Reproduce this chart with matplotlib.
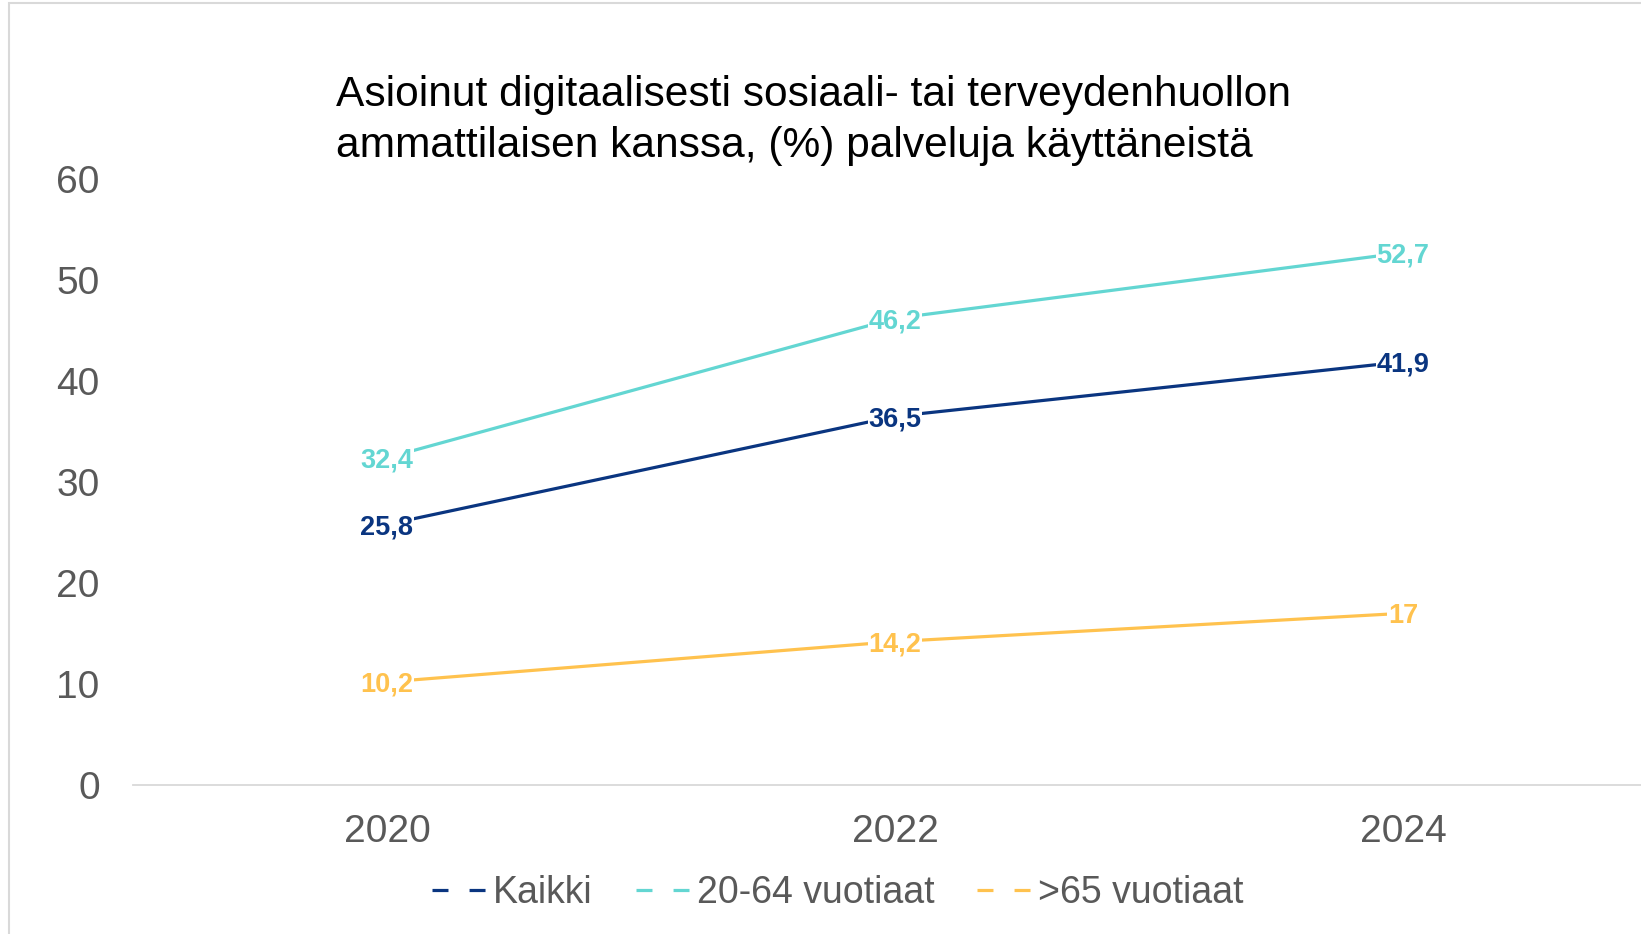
import matplotlib
matplotlib.use("Agg")
import matplotlib.pyplot as plt
from matplotlib.lines import Line2D
from matplotlib.patches import Rectangle

plt.rcParams['font.family'] = ['Liberation Sans', 'DejaVu Sans']

years = ["2020", "2022", "2024"]
kaikki = [25.8, 36.5, 41.9]
aged_20_64 = [32.4, 46.2, 52.7]
aged_65 = [10.2, 14.2, 17]
labels_kaikki = ["25,8", "36,5", "41,9"]
labels_20_64 = ["32,4", "46,2", "52,7"]
labels_65 = ["10,2", "14,2", "17"]
series_names = ["Kaikki", "20-64 vuotiaat", ">65 vuotiaat"]
colors = ["#0A3580", "#63D6D2", "#FFC24E"]
title_lines = ["Asioinut digitaalisesti sosiaali- tai terveydenhuollon",
               "ammattilaisen kanssa, (%) palveluja käyttäneistä"]
yticks = [0, 10, 20, 30, 40, 50, 60]

W, H = 1641, 934
fig = plt.figure(figsize=(W / 100, H / 100), dpi=100)
ax = fig.add_axes([133 / W, 1 - 785 / H, 1524 / W, (785 - 179) / H])

x = list(range(len(years)))
series = [kaikki, aged_20_64, aged_65]
lbls = [labels_kaikki, labels_20_64, labels_65]
for vals, lab, col in zip(series, lbls, colors):
    ax.plot(x, vals, color=col, lw=2.3, solid_capstyle='round', zorder=2)
    for xi, v, t in zip(x, vals, lab):
        ax.annotate(t, (xi, v), xytext=(0, -2), textcoords='offset points',
                    ha='center', va='center', color=col,
                    fontsize=19.5, fontweight='bold', zorder=3,
                    bbox=dict(facecolor='white', edgecolor='none', pad=0.5))

ax.set_xlim(-0.5, 2.5)
ax.set_ylim(0, 60)
ax.set_xticks(x)
ax.set_xticklabels(years)
ax.set_yticks(yticks)
ax.tick_params(axis='both', length=0, labelsize=28, labelcolor='#595959')
ax.tick_params(axis='y', pad=24)
ax.tick_params(axis='x', pad=21)
for s in ['top', 'right', 'left']:
    ax.spines[s].set_visible(False)
ax.spines['bottom'].set_color('#D9D9D9')
ax.spines['bottom'].set_linewidth(1.3)

for i, line in enumerate(title_lines):
    fig.text(336 / W, 1 - (106 + 51 * i) / H, line, ha='left', va='baseline',
             fontsize=30.6, color='black')

handles = [Line2D([0], [0], color=c, lw=2.3, linestyle=(0, (5.0, 6.6)))
           for c in colors]
leg = fig.legend(handles, series_names, loc='center', bbox_to_anchor=(838 / W, 1 - 893 / H),
                 ncol=3, frameon=False, fontsize=27, handlelength=1.42,
                 handletextpad=0.2, columnspacing=1.15, labelcolor='#595959')

fig.patches.append(Rectangle((9 / W, -0.1), 1.2, 1 - 3 / H + 0.1, transform=fig.transFigure,
                             fill=False, edgecolor='#D9D9D9', lw=1.5))

fig.savefig("out.png", dpi=100)
